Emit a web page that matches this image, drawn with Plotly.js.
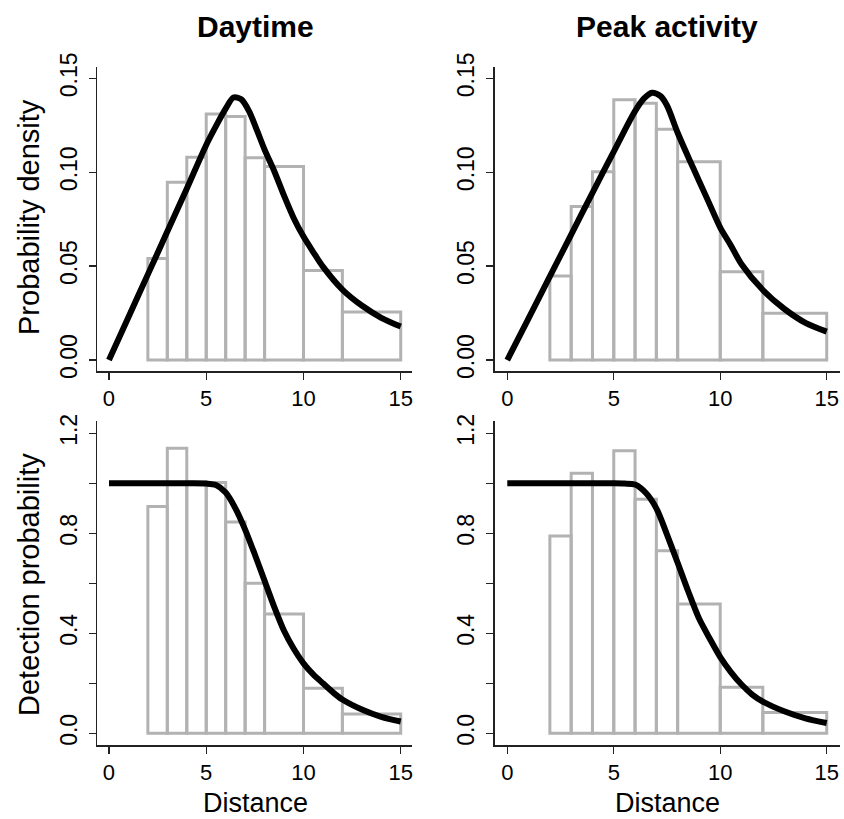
<!DOCTYPE html>
<html>
<head>
<meta charset="utf-8">
<script src="https://cdn.plot.ly/plotly-3.0.1.min.js"></script>
<style>html,body{margin:0;padding:0;background:#fff;}#chart{width:844px;height:819px;}</style>
</head>
<body>
<div id="chart"></div>
<script>
// Histogram bin breaks (distance)
const breaks = [2, 3, 4, 5, 6, 7, 8, 10, 12, 15];

// Histogram heights
const densDay  = [0.054, 0.0946, 0.1079, 0.131, 0.1296, 0.1077, 0.103, 0.0476, 0.0256];
const densPeak = [0.0447, 0.0817, 0.1003, 0.1385, 0.1367, 0.1228, 0.1056, 0.047, 0.0249];
const detDay   = [0.907, 1.14, 1.005, 1.003, 0.845, 0.60, 0.477, 0.18, 0.077];
const detPeak  = [0.789, 1.04, 1.0, 1.13, 0.936, 0.73, 0.517, 0.184, 0.083];

// Fitted curves
const curveDayX  = [0, 1, 2, 3, 4, 5, 5.5, 6, 6.4, 6.8, 7.2, 7.6, 8, 8.5, 9, 9.5, 10, 10.5, 11, 12, 13, 14, 15];
const curveDayY  = [0, 0.0228, 0.0456, 0.0684, 0.0912, 0.1145, 0.1245, 0.1338, 0.1398, 0.1388, 0.1325, 0.1225, 0.112, 0.1005, 0.0875, 0.0755, 0.0657, 0.0575, 0.0497, 0.0375, 0.029, 0.0225, 0.0178];
const curvePeakX = [0, 1, 2, 3, 4, 5, 5.5, 6, 6.4, 6.8, 7.2, 7.5, 8, 8.5, 9, 9.5, 10, 10.5, 11, 12, 13, 14, 15];
const curvePeakY = [0, 0.0222, 0.0445, 0.0668, 0.089, 0.111, 0.122, 0.1325, 0.139, 0.1423, 0.1405, 0.1355, 0.121, 0.108, 0.0955, 0.083, 0.0705, 0.061, 0.051, 0.0373, 0.0273, 0.0198, 0.0151];
const detCurveX  = [0, 1, 2, 3, 4, 5, 5.5, 6, 6.5, 7, 7.5, 8, 8.5, 9, 9.5, 10, 10.5, 11, 11.5, 12, 13, 14, 15];
const detDayY    = [1, 1, 1, 1, 1, 0.999, 0.993, 0.963, 0.9, 0.815, 0.715, 0.61, 0.505, 0.41, 0.338, 0.28, 0.236, 0.2, 0.165, 0.135, 0.095, 0.066, 0.047];
const detPeakY   = [1, 1, 1, 1, 1, 1, 0.999, 0.995, 0.962, 0.9, 0.795, 0.682, 0.567, 0.46, 0.38, 0.305, 0.245, 0.195, 0.155, 0.127, 0.088, 0.06, 0.041];

// Tick labels
const xTicks = [0, 5, 10, 15];
const densTicks = [0, 0.05, 0.10, 0.15];
const densTickText = ['0.00', '0.05', '0.10', '0.15'];
const detTicks = [0, 0.2, 0.4, 0.6, 0.8, 1.0, 1.2];
const detTickText = ['0.0', '', '0.4', '', '0.8', '', '1.2'];

const panelTitles = ['Daytime', 'Peak activity'];
const yTitles = ['Probability density', 'Detection probability'];
const xTitle = 'Distance';

const mids = breaks.slice(0, -1).map((b, i) => (b + breaks[i + 1]) / 2);
const widths = breaks.slice(0, -1).map((b, i) => breaks[i + 1] - b);

const GRAY = '#b2b2b2';
function hist(vals, xa, ya) {
  return {type: 'bar', x: mids, y: vals, width: widths, xaxis: xa, yaxis: ya,
    marker: {color: 'rgba(255,255,255,0)', line: {color: GRAY, width: 3}},
    hoverinfo: 'skip', showlegend: false};
}
function curve(xs, ys, xa, ya) {
  return {type: 'scatter', mode: 'lines', x: xs, y: ys, xaxis: xa, yaxis: ya,
    line: {color: '#000', width: 6, shape: 'spline', smoothing: 0.8},
    hoverinfo: 'skip', showlegend: false};
}

const data = [
  hist(densDay, 'x', 'y'), curve(curveDayX, curveDayY, 'x', 'y'),
  hist(densPeak, 'x2', 'y2'), curve(curvePeakX, curvePeakY, 'x2', 'y2'),
  hist(detDay, 'x3', 'y3'), curve(detCurveX, detDayY, 'x3', 'y3'),
  hist(detPeak, 'x4', 'y4'), curve(detCurveX, detPeakY, 'x4', 'y4')
];

const W = 844, H = 819;
const FONT = '"Liberation Sans", Arial, sans-serif';
const colL = [97.3 / W, 412.4 / W];
const colR = [494.5 / W, 839.5 / W];
const rowT = [(H - 371.3) / H, (H - 67) / H];
const rowB = [(H - 745.3) / H, (H - 421.3) / H];

function xax(dom, anchor) {
  return {domain: dom, anchor: anchor, range: [-0.6, 15.6], tickvals: xTicks, ticktext: xTicks.map(String),
    showline: true, linecolor: '#222', linewidth: 1.3, ticks: 'outside', ticklen: 7, tickwidth: 1.3, tickcolor: '#222',
    showgrid: false, zeroline: false, tickfont: {size: 22, color: '#000', family: FONT}, fixedrange: true};
}
function yax(dom, anchor, range, tv, tt) {
  return {domain: dom, anchor: anchor, range: range, tickvals: tv, ticktext: tt, tickangle: -90,
    showline: true, linecolor: '#222', linewidth: 1.3, ticks: 'outside', ticklen: 7, tickwidth: 1.3, tickcolor: '#222',
    showgrid: false, zeroline: false, tickfont: {size: 23, color: '#000', family: FONT}, fixedrange: true,
    ticklabelstandoff: 3};
}

function ann(text, px, py, size, bold, angle) {
  return {text: bold ? '<b>' + text + '</b>' : text, xref: 'paper', yref: 'paper', x: px / W, y: (H - py) / H,
    xanchor: 'center', yanchor: 'middle', showarrow: false, textangle: angle || 0,
    font: {size: size, color: '#000', family: FONT}};
}

const layout = {
  width: W, height: H, margin: {l: 0, r: 0, t: 0, b: 0},
  paper_bgcolor: '#fff', plot_bgcolor: 'rgba(0,0,0,0)', showlegend: false, bargap: 0,
  font: {family: FONT},
  xaxis: xax(colL, 'y'), yaxis: yax(rowT, 'x', [-0.006, 0.156], densTicks, densTickText),
  xaxis2: xax(colR, 'y2'), yaxis2: yax(rowT, 'x2', [-0.006, 0.156], densTicks, densTickText),
  xaxis3: xax(colL, 'y3'), yaxis3: yax(rowB, 'x3', [-0.048, 1.248], detTicks, detTickText),
  xaxis4: xax(colR, 'y4'), yaxis4: yax(rowB, 'x4', [-0.048, 1.248], detTicks, detTickText),
  annotations: [
    ann(panelTitles[0], 255, 26, 30, true),
    ann(panelTitles[1], 667, 26, 30, true),
    ann(yTitles[0], 29, 217, 29, false, -90),
    ann(yTitles[1], 29, 585, 29, false, -90),
    ann(xTitle, 255, 803, 27, false),
    ann(xTitle, 667, 803, 27, false)
  ]
};

Plotly.newPlot('chart', data, layout, {staticPlot: true, displayModeBar: false});
</script>
</body>
</html>
